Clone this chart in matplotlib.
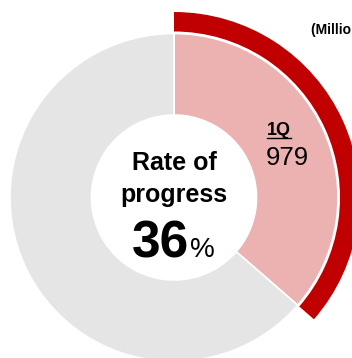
import matplotlib
matplotlib.use("Agg")
import matplotlib.pyplot as plt

plt.rcParams["font.family"] = ["Liberation Sans", "DejaVu Sans"]

# ---------------------------------------------------------------------------
# Data
# ---------------------------------------------------------------------------
quarter_labels = ["1Q"]
quarter_values = [979]
progress_rate = 36          # shown (rounded) percent of full-year target
progress_share = 36.4       # share drawn on the ring (estimated from arc)
ring_shares = [progress_share, 100 - progress_share]
unit_label = "(Millions of yen)"

RED = "#C00000"
PINK = "#ECB2B2"
GRAY = "#E5E5E5"

W, H = 352, 358
fig = plt.figure(figsize=(W / 100, H / 100), dpi=100, facecolor="white")
ax = fig.add_axes([0, 0, 1, 1])

cx, cy = 174, H - 197.5

# main ring
ax.pie(ring_shares, colors=[PINK, GRAY], radius=164, center=(cx, cy),
       startangle=90, counterclock=False,
       wedgeprops=dict(width=81.5, edgecolor="white", linewidth=1.2))

# outer progress arc
ax.pie(ring_shares, colors=[RED, "none"], radius=185.5, center=(cx, cy),
       startangle=90, counterclock=False,
       wedgeprops=dict(width=19.5, linewidth=0))

ax.set_xlim(0, W)
ax.set_ylim(0, H)
ax.set_aspect("equal")
ax.axis("off")

# centre text
ax.text(cx, H - 170, "Rate of", ha="center", va="baseline",
        fontsize=18, fontweight="bold")
ax.text(cx, H - 202, "progress", ha="center", va="baseline",
        fontsize=18, fontweight="bold")
ax.text(cx + 15, H - 257, f"{progress_rate}", ha="right", va="baseline",
        fontsize=37, fontweight="bold")
ax.text(cx + 16, H - 257, "%", ha="left", va="baseline", fontsize=20)

# quarter label
ax.text(267, H - 135, quarter_labels[0], ha="left", va="baseline",
        fontsize=13, fontweight="bold")
ax.plot([267, 291], [H - 137.5, H - 137.5], color="black", linewidth=1.0)
ax.text(266, H - 165, f"{quarter_values[0]:,}", ha="left", va="baseline",
        fontsize=18.5)

# unit label (runs off the right edge, as in the original)
ax.text(311, H - 34, unit_label, ha="left", va="baseline",
        fontsize=10, fontweight="bold")

fig.savefig("out.png", dpi=100, facecolor="white")
